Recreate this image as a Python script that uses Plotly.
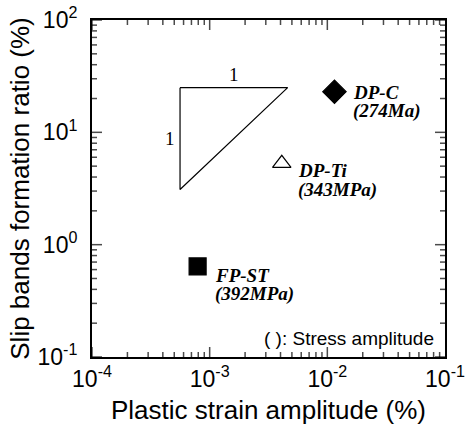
import math
import plotly.graph_objects as go

# Data
names = ["DP-C", "DP-Ti", "FP-ST"]
stress_labels = ["(274Ma)", "(343MPa)", "(392MPa)"]
strain = [0.0115, 0.0041, 0.00079]
ratio = [23.0, 5.3, 0.64]
symbols = ["diamond", "triangle-up-open", "square"]
sizes = [18, 16, 17]

# slope triangle (1:1)
tri_x = [0.00056, 0.0046, 0.00056, 0.00056]
tri_y = [25.0, 25.0, 3.1, 25.0]

x_tickvals = [1e-4, 1e-3, 1e-2, 1e-1]
x_ticktext = ["10<sup>-4</sup>", "10<sup>-3</sup>", "10<sup>-2</sup>", "10<sup>-1</sup>"]
y_tickvals = [1e-1, 1e0, 1e1, 1e2]
y_ticktext = ["10<sup>-1</sup>", "10<sup>0</sup>", "10<sup>1</sup>", "10<sup>2</sup>"]

x_minor = [m * v for v in x_tickvals[:-1] for m in range(2, 10)]
y_minor = [m * v for v in y_tickvals[:-1] for m in range(2, 10)]

SERIF = "Liberation Serif"
SANS = "Liberation Sans"
W, H = 473, 427
ML, MR, MT, MB = 92, 28, 20, 70
XR, YR = [-4, -1], [-1, 2]
MAJOR_LEN, MINOR_LEN = 10, 5

# pixels per decade, used to give tick marks a fixed pixel length
ppd_x = (W - ML - MR) / (XR[1] - XR[0])
ppd_y = (H - MT - MB) / (YR[1] - YR[0])

fig = go.Figure()

fig.add_trace(go.Scatter(x=tri_x, y=tri_y, mode="lines",
                         line=dict(color="black", width=1.2), showlegend=False,
                         hoverinfo="skip"))

# inside tick marks on all four sides, drawn as line-shaped markers
# (a line marker of size s is 1.4*s pixels long, centred on its point)
tx, ty, ts = [], [], []
for vals, length in ((x_tickvals, MAJOR_LEN), (x_minor, MINOR_LEN)):
    d = (length / 2) / ppd_y
    for v in vals:
        tx += [v, v]
        ty += [10 ** (YR[0] + d), 10 ** (YR[1] - d)]
        ts += [length / 1.4, length / 1.4]
fig.add_trace(go.Scatter(x=tx, y=ty, mode="markers", showlegend=False, hoverinfo="skip",
                         cliponaxis=False,
                         marker=dict(symbol="line-ns", size=ts, color="black",
                                     line=dict(color="black", width=1.5))))
ux, uy, us = [], [], []
for vals, length in ((y_tickvals, MAJOR_LEN), (y_minor, MINOR_LEN)):
    d = (length / 2) / ppd_x
    for v in vals:
        ux += [10 ** (XR[0] + d), 10 ** (XR[1] - d)]
        uy += [v, v]
        us += [length / 1.4, length / 1.4]
fig.add_trace(go.Scatter(x=ux, y=uy, mode="markers", showlegend=False, hoverinfo="skip",
                         cliponaxis=False,
                         marker=dict(symbol="line-ew", size=us, color="black",
                                     line=dict(color="black", width=1.5))))

label_dx = [17, 14, 15]
name_dy = [1, 7, 9]
stress_dy = [19, 27, 28]
for i in range(len(names)):
    fig.add_trace(go.Scatter(
        x=[strain[i]], y=[ratio[i]], mode="markers",
        marker=dict(symbol=symbols[i], size=sizes[i], color="black",
                    line=dict(color="black", width=1.2)),
        showlegend=False))
    lx, ly = math.log10(strain[i]), math.log10(ratio[i])
    fig.add_annotation(x=lx, y=ly, xref="x", yref="y",
                       text="<b><i>" + names[i] + "</i></b>",
                       showarrow=False, xanchor="left", yanchor="middle",
                       xshift=label_dx[i], yshift=-name_dy[i],
                       font=dict(family=SERIF, size=19, color="black"))
    fig.add_annotation(x=lx, y=ly, xref="x", yref="y",
                       text="<b><i>" + stress_labels[i] + "</i></b>",
                       showarrow=False, xanchor="left", yanchor="middle",
                       xshift=label_dx[i], yshift=-stress_dy[i],
                       font=dict(family=SERIF, size=19, color="black"))

# slope labels
fig.add_annotation(x=(math.log10(tri_x[0]) + math.log10(tri_x[1])) / 2,
                   y=math.log10(tri_y[0]), text="1", showarrow=False,
                   yanchor="middle", yshift=13,
                   font=dict(family=SERIF, size=19, color="black"))
fig.add_annotation(x=math.log10(tri_x[0]),
                   y=(math.log10(tri_y[0]) + math.log10(tri_y[2])) / 2, text="1",
                   showarrow=False, xanchor="center", xshift=-10,
                   font=dict(family=SERIF, size=19, color="black"))

fig.add_annotation(xref="paper", yref="paper", x=0.975, y=0.055, text="( ): Stress amplitude",
                   showarrow=False, xanchor="right", yanchor="middle",
                   font=dict(family=SANS, size=19, color="black"))

axis_common = dict(type="log", showline=True, linecolor="black", linewidth=2,
                   mirror=True, ticks="", showgrid=False, zeroline=False, automargin=False,
                   tickfont=dict(family=SANS, size=23, color="black"))

fig.update_xaxes(range=XR, tickvals=x_tickvals, ticktext=x_ticktext,
                 title=dict(text="Plastic strain amplitude (%)", standoff=10,
                            font=dict(family=SANS, size=26, color="black")),
                 **axis_common)
fig.update_yaxes(range=YR, tickvals=y_tickvals, ticktext=y_ticktext,
                 ticklabelstandoff=8,
                 title=dict(text="Slip bands formation ratio (%)", standoff=0,
                            font=dict(family=SANS, size=26, color="black")),
                 **axis_common)

fig.update_layout(width=W, height=H, margin=dict(l=ML, r=MR, t=MT, b=MB),
                  plot_bgcolor="white", paper_bgcolor="white", template="none")

fig.write_html("out.html", config={"displayModeBar": False},
               post_script="document.body.style.margin='0';")
